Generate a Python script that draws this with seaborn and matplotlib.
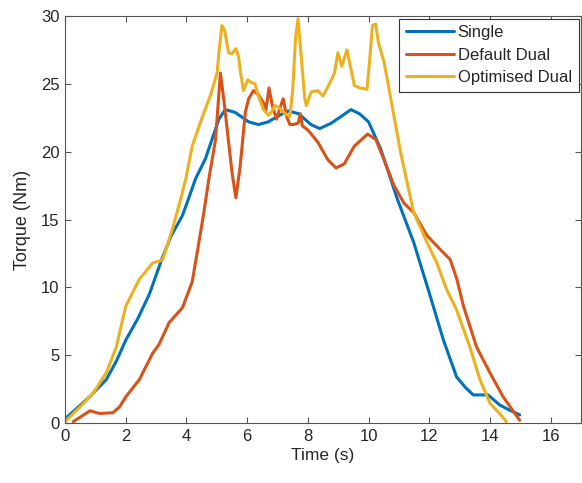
import matplotlib
matplotlib.use("Agg")
import matplotlib.pyplot as plt
import seaborn as sns
import pandas as pd

series_names = ["Single", "Default Dual", "Optimised Dual"]
series_colors = ["#0072BD", "#D95319", "#EDB120"]

t_single = [0, 0.4, 0.82, 1.36, 1.7, 2.0, 2.4, 2.78, 3.21, 3.5, 3.87, 4.08, 4.3, 4.63,
            5.07, 5.28, 5.6, 6.05, 6.37, 6.7, 7.0, 7.35, 7.7, 8.1, 8.39, 8.77, 9.1,
            9.42, 9.7, 10.0, 10.4, 10.95, 11.49, 12.04, 12.47, 12.9, 13.2, 13.45,
            13.94, 14.32, 14.6, 14.98]
y_single = [0.3, 1.1, 1.95, 3.2, 4.6, 6.1, 7.7, 9.5, 12.2, 13.8, 15.3, 16.6, 18.0, 19.5,
            22.4, 23.1, 22.9, 22.2, 22.0, 22.2, 22.6, 23.0, 22.8, 22.0, 21.7, 22.1, 22.6,
            23.1, 22.8, 22.2, 20.2, 16.5, 13.3, 9.3, 6.1, 3.4, 2.6, 2.07,
            2.07, 1.33, 1.0, 0.6]

t_default = [0.27, 0.55, 0.82, 1.14, 1.58, 1.8, 2.01, 2.45, 2.89, 3.1, 3.43, 3.87, 4.19,
             4.41, 4.58, 4.74, 4.96, 5.12, 5.25, 5.39, 5.5, 5.63, 5.77, 5.94, 6.05, 6.21,
             6.37, 6.54, 6.62, 6.72, 6.83, 6.97, 7.08, 7.19, 7.3, 7.41, 7.52, 7.68, 7.75,
             7.82, 8.0, 8.33, 8.66, 8.93, 9.2, 9.53, 9.97, 10.24, 10.51, 10.84, 11.17,
             11.49, 11.93, 12.36, 12.69, 12.91, 13.13, 13.56, 14.0, 14.43, 14.98]
y_default = [0.1, 0.5, 0.9, 0.7, 0.76, 1.2, 1.95, 3.2, 5.15, 5.8, 7.4, 8.5, 10.4,
             13.3, 15.6, 18.0, 20.9, 25.8, 23.5, 20.7, 18.5, 16.6, 18.9, 22.9, 23.9, 24.5,
             24.2, 23.6, 23.1, 24.7, 23.4, 22.4, 23.2, 23.9, 22.6, 22.0, 22.0, 22.1, 22.8,
             21.9, 21.6, 20.7, 19.4, 18.8, 19.1, 20.4, 21.3, 20.9, 19.4, 17.5, 16.2,
             15.5, 13.8, 12.8, 12.05, 10.6, 8.6, 5.6, 3.7, 1.95, 0.2]

t_optim = [0, 0.5, 0.93, 1.36, 1.69, 2.0, 2.45, 2.89, 3.21, 3.54, 3.81, 3.98, 4.19, 4.5,
           4.8, 5.01, 5.08, 5.17, 5.25, 5.39, 5.5, 5.63, 5.72, 5.77, 5.88, 6.02, 6.14,
           6.26, 6.37, 6.54, 6.7, 6.8, 6.92, 7.08, 7.25, 7.41, 7.5, 7.6, 7.68, 7.79,
           7.9, 7.95, 8.11, 8.33, 8.5, 8.71, 8.88, 8.99, 9.12, 9.29, 9.42, 9.53, 9.7,
           9.95, 10.05, 10.13, 10.24, 10.32, 10.51, 10.62, 10.84, 11.06, 11.49, 11.93,
           12.25, 12.58, 12.9, 13.34, 13.67, 14.0, 14.32, 14.54]
y_optim = [0.1, 1.2, 2.2, 3.7, 5.6, 8.6, 10.6, 11.8, 12.0, 14.3, 16.5, 18.0, 20.4, 22.4,
           24.2, 25.8, 27.5, 29.3, 29.0, 27.3, 27.2, 27.6, 27.0, 26.0, 24.5, 25.3, 25.1,
           25.0, 24.1, 23.1, 22.7, 22.9, 23.4, 23.2, 22.8, 22.6, 24.5, 28.5, 29.8, 26.8,
           23.9, 23.4, 24.4, 24.5, 24.1, 25.0, 25.8, 27.3, 26.3, 27.5, 26.1, 24.9, 24.7,
           24.6, 27.1, 29.3, 29.4, 28.1, 26.6, 25.3, 22.6, 19.9, 15.5, 13.3,
           11.8, 9.8, 8.35, 5.6, 3.2, 1.46, 0.7, 0.1]

x_ticks = [0, 2, 4, 6, 8, 10, 12, 14, 16]
y_ticks = [0, 5, 10, 15, 20, 25, 30]

frames = []
for name, tt, yy in zip(series_names, [t_single, t_default, t_optim],
                        [y_single, y_default, y_optim]):
    frames.append(pd.DataFrame({"Time": tt, "Torque": yy, "Series": name}))
df = pd.concat(frames, ignore_index=True)

sns.set_theme(style="ticks")
plt.rcParams["font.family"] = ["Liberation Sans", "DejaVu Sans"]
plt.rcParams.update({
    "xtick.direction": "in", "ytick.direction": "in",
    "xtick.top": True, "ytick.right": True,
    "axes.edgecolor": "#555555", "axes.linewidth": 0.8,
    "xtick.color": "#555555", "ytick.color": "#555555",
    "xtick.labelcolor": "#262626", "ytick.labelcolor": "#262626",
})

fig = plt.figure(figsize=(5.82, 4.83), dpi=100)
ax = fig.add_axes([65 / 582, 60 / 483, 516 / 582, 407 / 483])

sns.lineplot(data=df, x="Time", y="Torque", hue="Series", hue_order=series_names,
             palette=series_colors, sort=False, estimator=None, linewidth=2.2, ax=ax)

ax.set_xlim(0, 17)
ax.set_ylim(0, 30)
ax.set_xticks(x_ticks)
ax.set_yticks(y_ticks)
ax.tick_params(labelsize=12, length=4, width=0.8, pad=4)
for s in ax.spines.values():
    s.set_visible(True)
ax.set_xlabel("Time (s)", fontsize=12.5, color="#262626", labelpad=3)
ax.set_ylabel("Torque (Nm)", fontsize=13, color="#262626", labelpad=7)

handles, labels = ax.get_legend_handles_labels()
leg = ax.legend(handles, labels, loc="upper right", fontsize=12, frameon=True,
                fancybox=False, edgecolor="#333333", framealpha=1,
                borderaxespad=0.15, handlelength=2.9, handletextpad=0.2,
                labelspacing=0.45, borderpad=0.4)
leg.get_frame().set_linewidth(0.8)

fig.savefig("out.png", dpi=100)
